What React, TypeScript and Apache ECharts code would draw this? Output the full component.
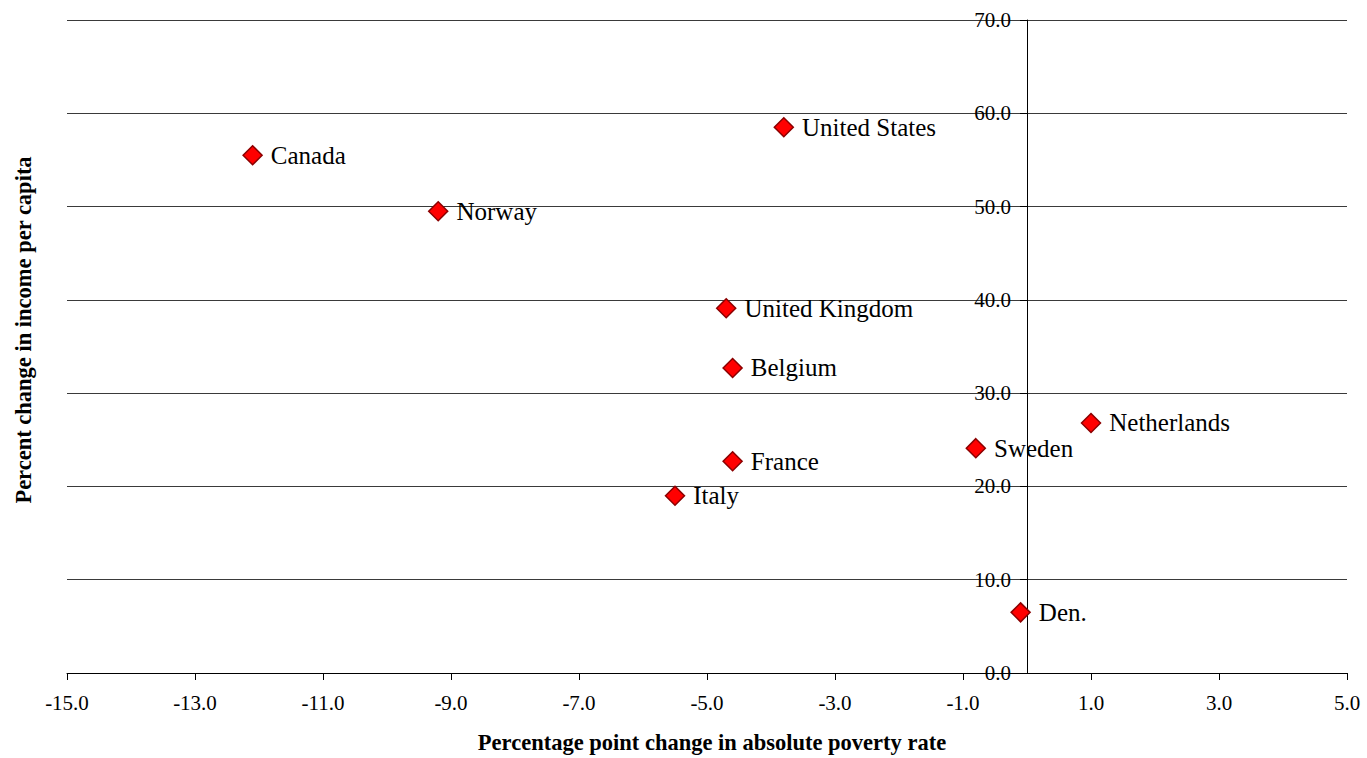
import React, { useEffect, useRef } from "react";
import * as echarts from "echarts";

// Change in absolute poverty rate (percentage points) vs. change in income per capita (%)
const countries = [
  "Canada",
  "Norway",
  "United States",
  "United Kingdom",
  "Belgium",
  "France",
  "Italy",
  "Sweden",
  "Netherlands",
  "Den.",
];
const povertyChange = [-12.1, -9.2, -3.8, -4.7, -4.6, -4.6, -5.5, -0.8, 1.0, -0.1];
const incomeChange = [55.5, 49.5, 58.5, 39.1, 32.7, 22.7, 19.0, 24.1, 26.8, 6.5];

const xTitle = "Percentage point change in absolute poverty rate";
const yTitle = "Percent change in income per capita";

const FONT = "Liberation Serif, Times New Roman, serif";
const GRID_LEFT = 67;
const GRID_RIGHT = 20;

export default function App() {
  const ref = useRef<HTMLDivElement>(null);

  useEffect(() => {
    if (!ref.current) return;
    const chart = echarts.init(ref.current, null, { renderer: "svg" });

    const points = countries.map((name, i) => ({
      name,
      value: [povertyChange[i], incomeChange[i]],
    }));

    chart.setOption({
      animation: false,
      backgroundColor: "#ffffff",
      textStyle: { fontFamily: FONT },
      grid: { left: GRID_LEFT, right: GRID_RIGHT, top: 20, bottom: 85, containLabel: false },
      xAxis: {
        type: "value",
        min: -15,
        max: 5,
        interval: 2,
        axisLine: { onZero: true, lineStyle: { color: "#000", width: 1 } },
        axisTick: { show: true, length: 7, lineStyle: { color: "#000" } },
        axisLabel: {
          margin: 19,
          color: "#000",
          fontSize: 21,
          fontFamily: FONT,
          formatter: (v: number) => v.toFixed(1),
        },
        splitLine: { show: false },
      },
      yAxis: {
        type: "value",
        position: "left",
        min: 0,
        max: 70,
        interval: 10,
        axisLine: { show: true, onZero: false, lineStyle: { color: "#000", width: 1 } },
        axisTick: { show: true, length: 7, lineStyle: { color: "#000" } },
        axisLabel: {
          margin: 16,
          color: "#000",
          fontSize: 21,
          fontFamily: FONT,
          formatter: (v: number) => v.toFixed(1),
        },
        splitLine: { show: true, lineStyle: { color: "#3a3a3a", width: 1 } },
      },
      series: [
        {
          type: "scatter",
          data: points,
          symbol: "diamond",
          symbolSize: 19,
          itemStyle: { color: "#ff0000", borderColor: "#8b0000", borderWidth: 1.5, opacity: 1 },
          label: {
            show: true,
            position: "right",
            distance: 8,
            formatter: (p: any) => p.name,
            color: "#000",
            fontSize: 25,
            fontFamily: FONT,
          },
          z: 5,
        },
      ],
    });

    // Move the value axis so it crosses the horizontal axis at zero
    const zeroX = chart.convertToPixel({ xAxisIndex: 0 }, 0) as number;
    const gridCenterX = (GRID_LEFT + (1367 - GRID_RIGHT)) / 2;
    chart.setOption({
      yAxis: { offset: -(zeroX - GRID_LEFT) },
      graphic: [
        {
          type: "text",
          x: gridCenterX + 5,
          y: 742,
          style: {
            text: xTitle,
            fill: "#000",
            font: `bold 22.5px ${FONT}`,
            align: "center",
            verticalAlign: "middle",
          },
        },
        {
          type: "text",
          x: 23,
          y: 330,
          rotation: Math.PI / 2,
          style: {
            text: yTitle,
            fill: "#000",
            font: `bold 22.5px ${FONT}`,
            align: "center",
            verticalAlign: "middle",
          },
        },
      ],
    });

    return () => chart.dispose();
  }, []);

  return (
    <div
      ref={ref}
      style={{ position: "absolute", left: 0, top: 0, width: 1367, height: 758 }}
    />
  );
}
